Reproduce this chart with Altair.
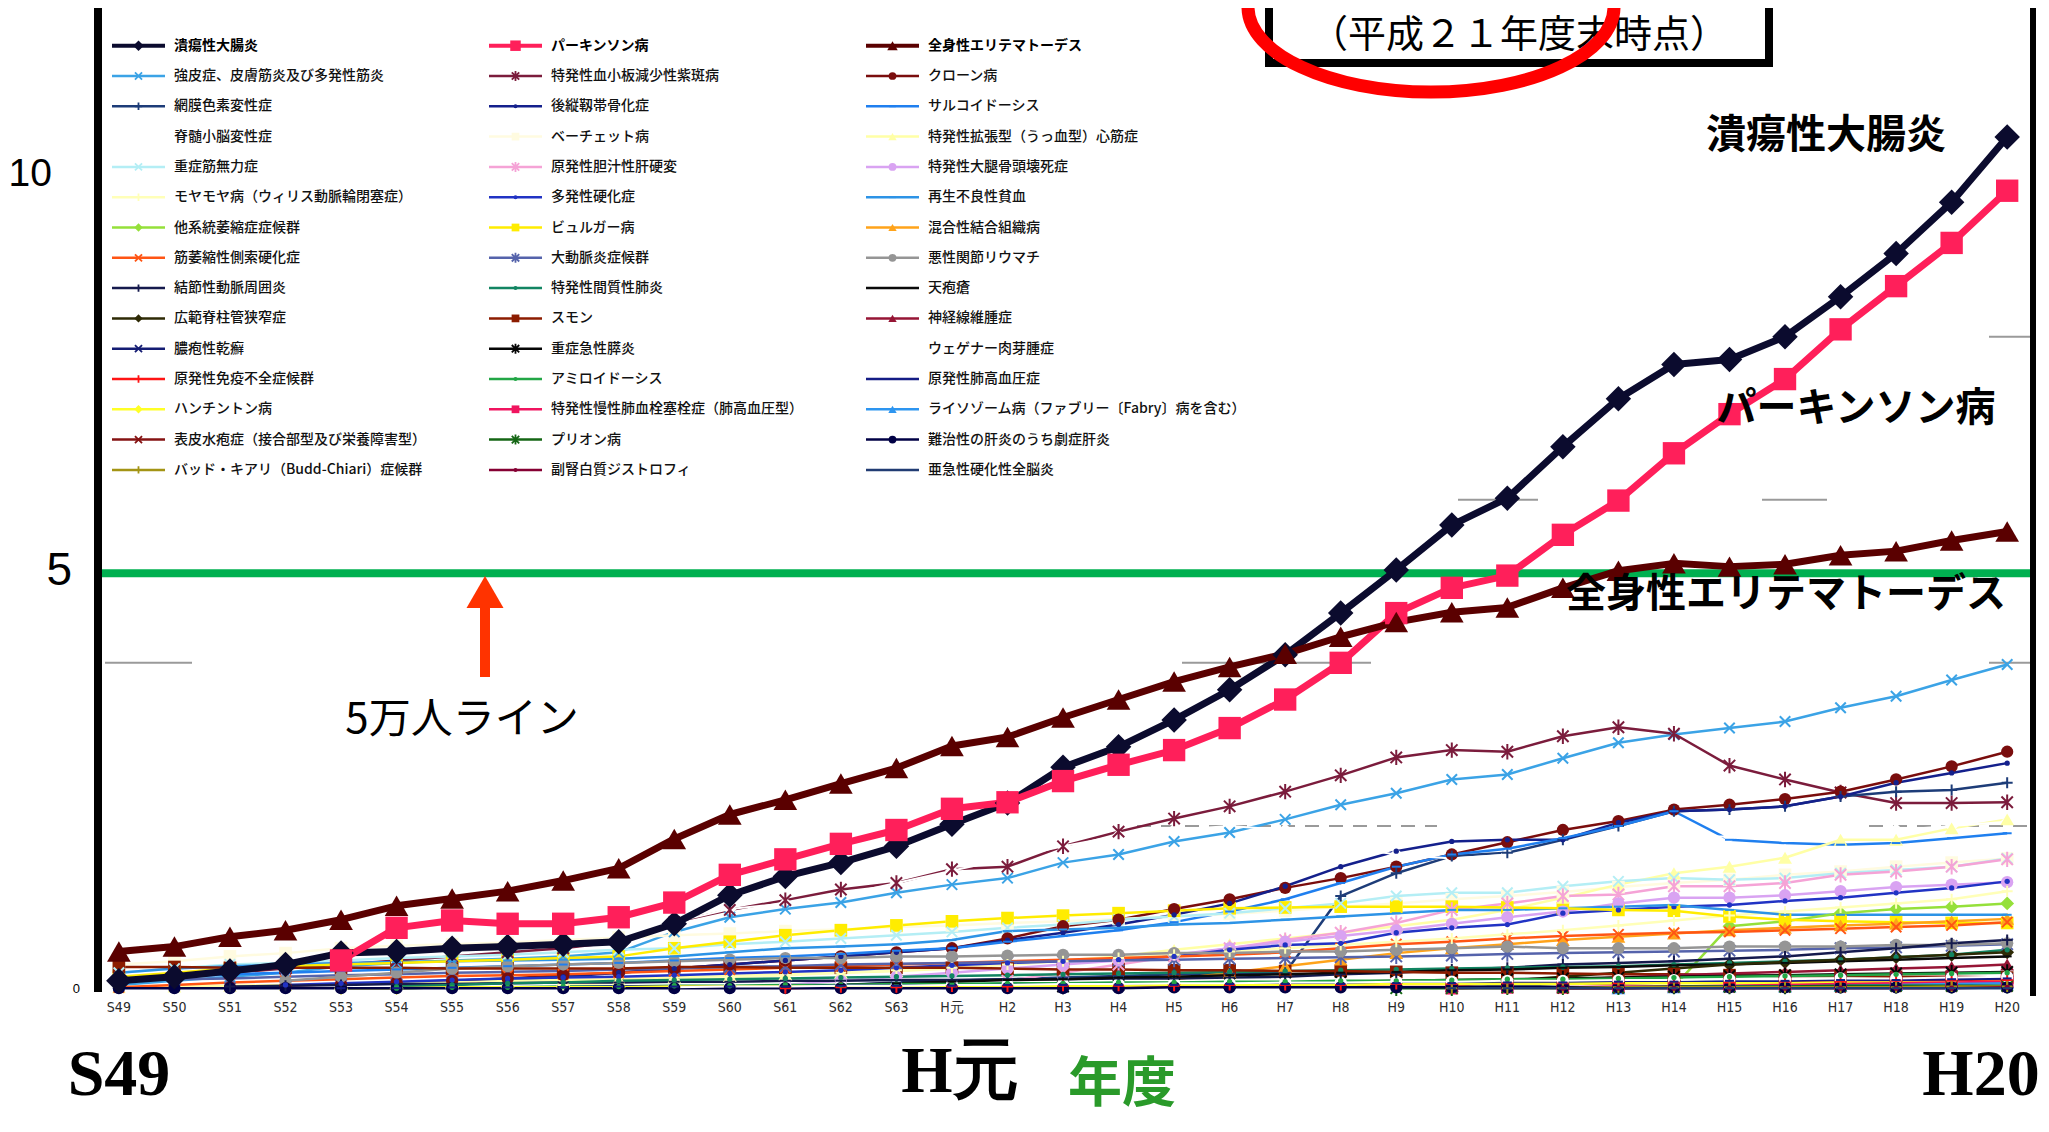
import altair as alt
import pandas as pd

# ---------------- data ----------------
YEARS = ["S49", "S50", "S51", "S52", "S53", "S54", "S55", "S56", "S57", "S58",
         "S59", "S60", "S61", "S62", "S63", "H元", "H2", "H3", "H4", "H5",
         "H6", "H7", "H8", "H9", "H10", "H11", "H12", "H13", "H14", "H15",
         "H16", "H17", "H18", "H19", "H20"]
N = None

NAMES = [
    "潰瘍性大腸炎", "パーキンソン病", "全身性エリテマトーデス",
    "強皮症、皮膚筋炎及び多発性筋炎", "特発性血小板減少性紫斑病", "クローン病",
    "網膜色素変性症", "後縦靱帯骨化症", "サルコイドーシス",
    "脊髄小脳変性症", "ベーチェット病", "特発性拡張型（うっ血型）心筋症",
    "重症筋無力症", "原発性胆汁性肝硬変", "特発性大腿骨頭壊死症",
    "モヤモヤ病（ウィリス動脈輪閉塞症）", "多発性硬化症", "再生不良性貧血",
    "他系統萎縮症症候群", "ビュルガー病", "混合性結合組織病",
    "筋萎縮性側索硬化症", "大動脈炎症候群", "悪性関節リウマチ",
    "結節性動脈周囲炎", "特発性間質性肺炎", "天疱瘡",
    "広範脊柱管狭窄症", "スモン", "神経線維腫症",
    "膿疱性乾癬", "重症急性膵炎", "ウェゲナー肉芽腫症",
    "原発性免疫不全症候群", "アミロイドーシス", "原発性肺高血圧症",
    "ハンチントン病", "特発性慢性肺血栓塞栓症（肺高血圧型）", "ライソゾーム病（ファブリー〔Fabry〕病を含む）",
    "表皮水疱症（接合部型及び栄養障害型）", "プリオン病", "難治性の肝炎のうち劇症肝炎",
    "バッド・キアリ（Budd-Chiari）症候群", "副腎白質ジストロフィ", "亜急性硬化性全脳炎",
]

COLORS = [
    "#0b0b2e", "#ff1f5a", "#5a0000",
    "#3ba3e6", "#7b1c3c", "#7a0d0d",
    "#1d3c78", "#14208c", "#1f7fef",
    "#ffffff", "#fffbe0", "#ffffa6",
    "#b4eef5", "#f5a3d6", "#d9a3f2",
    "#ffffb8", "#2133c4", "#2d93e6",
    "#95e03a", "#ffec00", "#ffa31a",
    "#ff5514", "#5563ab", "#959595",
    "#151a4d", "#128562", "#0a0a0a",
    "#2e2a05", "#8c1c00", "#961535",
    "#141c73", "#050505", "#ffffff",
    "#ff1414", "#22a646", "#141c85",
    "#ffff26", "#f0145f", "#2d95f0",
    "#851212", "#146614", "#000045",
    "#a39414", "#850033", "#213c73",
]

# values in 万人, one per fiscal year S49 .. H20
UC = [0.10, 0.15, 0.22, 0.30, 0.44, 0.46, 0.50, 0.52, 0.55, 0.58, 0.80, 1.15, 1.38, 1.55, 1.75,
      2.02, 2.28, 2.72, 2.97, 3.30, 3.67, 4.10, 4.61, 5.14, 5.69, 6.02, 6.65, 7.24, 7.66, 7.72,
      8.00, 8.49, 9.02, 9.65, 10.45]
PARKINSON = [N, N, N, N, 0.35, 0.75, 0.84, 0.80, 0.80, 0.88, 1.06, 1.40, 1.59, 1.78, 1.95,
             2.21, 2.29, 2.55, 2.75, 2.93, 3.20, 3.55, 4.00, 4.61, 4.92, 5.07, 5.57, 5.99, 6.57, 7.05,
             7.48, 8.09, 8.62, 9.15, 9.79]
SLE = [0.46, 0.52, 0.64, 0.72, 0.85, 1.02, 1.11, 1.20, 1.33, 1.48, 1.84, 2.14, 2.32, 2.52, 2.71,
       2.98, 3.09, 3.33, 3.55, 3.77, 3.95, 4.11, 4.32, 4.50, 4.62, 4.68, 4.92, 5.13, 5.22, 5.18,
       5.21, 5.32, 5.37, 5.50, 5.61]
SCLERODERMA = [0.05, 0.10, 0.15, 0.20, 0.28, 0.32, 0.35, 0.37, 0.40, 0.45, 0.70, 0.88, 0.98, 1.06, 1.18,
               1.28, 1.36, 1.55, 1.65, 1.81, 1.92, 2.08, 2.26, 2.40, 2.57, 2.63, 2.83, 3.02, 3.12, 3.20,
               3.28, 3.45, 3.59, 3.79, 3.98]
ITP = [0.10, 0.15, 0.20, 0.25, 0.30, 0.35, 0.40, 0.45, 0.50, 0.58, 0.82, 0.97, 1.09, 1.22, 1.30,
       1.47, 1.50, 1.75, 1.93, 2.09, 2.24, 2.42, 2.62, 2.84, 2.93, 2.91, 3.10, 3.21, 3.13, 2.74,
       2.57, 2.41, 2.28, 2.28, 2.29]
CROHN = [N, N, 0.02, 0.04, 0.06, 0.08, 0.10, 0.13, 0.17, 0.20, 0.25, 0.30, 0.35, 0.40, 0.45,
         0.50, 0.62, 0.77, 0.85, 0.98, 1.10, 1.24, 1.36, 1.50, 1.65, 1.80, 1.95, 2.06, 2.20, 2.26,
         2.33, 2.42, 2.57, 2.73, 2.91]
RP = [N] * 12 + [0.02, 0.05, 0.08, 0.10, 0.12, 0.14, 0.16, 0.18, 0.19, 0.20, 1.14, 1.42, 1.63,
                 1.67, 1.83, 2.00, 2.18, 2.20, 2.24, 2.36, 2.42, 2.44, 2.53]
OPLL = [N] * 6 + [0.05, 0.10, 0.15, 0.20, 0.25, 0.30, 0.35, 0.40, 0.45, 0.50, 0.60, 0.69, 0.79,
                  0.91, 1.05, 1.26, 1.50, 1.69, 1.81, 1.83, 1.83, 2.04, 2.18, 2.20, 2.24, 2.36,
                  2.53, 2.65, 2.77]
SARCOID = [0.10, 0.14, 0.18, 0.20, 0.22, 0.24, 0.26, 0.28, 0.30, 0.32, 0.35, 0.38, 0.40, 0.43, 0.47,
           0.50, 0.58, 0.65, 0.72, 0.82, 0.95, 1.10, 1.30, 1.50, 1.65, 1.72, 1.85, 2.00, 2.18, 1.83,
           1.79, 1.77, 1.79, 1.85, 1.91]
SCD = [0.10, 0.15, 0.20, 0.30, 0.45, 0.47, 0.51, 0.52, 0.55, 0.58, 0.82, 0.98, 1.05, 1.15, 1.30,
       1.45, 1.60, 1.75, 1.88, 1.95, 2.00, 1.95, 1.75, 1.65, 1.60, 1.65, 1.70, 1.80, 1.87, 1.87,
       1.85, 1.90, 1.95, 2.00, 2.05]
BEHCET = [0.30, 0.34, 0.40, 0.44, 0.50, 0.53, 0.55, 0.57, 0.60, 0.63, 0.66, 0.68, 0.71, 0.73, 0.76,
          0.78, 0.81, 0.83, 0.86, 0.89, 0.92, 0.96, 1.01, 1.05, 1.10, 1.14, 1.19, 1.25, 1.30, 1.34,
          1.40, 1.44, 1.50, 1.55, 1.60]
DCM = [0.02, 0.03, 0.04, 0.05, 0.06, 0.07, 0.08, 0.10, 0.11, 0.12, 0.14, 0.16, 0.18, 0.20, 0.22,
       0.25, 0.30, 0.35, 0.40, 0.48, 0.55, 0.62, 0.69, 0.77, 0.85, 0.97, 1.12, 1.28, 1.42, 1.50,
       1.61, 1.83, 1.83, 1.97, 2.08]
MG = [0.20, 0.25, 0.30, 0.32, 0.35, 0.38, 0.40, 0.42, 0.45, 0.48, 0.50, 0.55, 0.58, 0.62, 0.66,
      0.70, 0.75, 0.79, 0.85, 0.89, 0.93, 0.99, 1.05, 1.14, 1.18, 1.18, 1.26, 1.32, 1.36, 1.34,
      1.36, 1.42, 1.46, 1.50, 1.60]
PBC = [N] * 16 + [0.10, 0.20, 0.30, 0.40, 0.50, 0.60, 0.69, 0.81, 0.97, 1.05, 1.14, 1.16, 1.26,
                  1.26, 1.30, 1.40, 1.44, 1.50, 1.59]
ANFH = [N] * 12 + [0.05, 0.10, 0.15, 0.20, 0.25, 0.30, 0.35, 0.42, 0.50, 0.58, 0.65, 0.72, 0.80,
                   0.88, 0.95, 1.05, 1.12, 1.12, 1.15, 1.20, 1.25, 1.28, 1.31]
MOYAMOYA = [N] * 8 + [0.05, 0.08, 0.11, 0.14, 0.17, 0.20, 0.23, 0.26, 0.30, 0.34, 0.38, 0.42, 0.46,
                      0.50, 0.54, 0.58, 0.62, 0.67, 0.72, 0.78, 0.84, 0.90, 0.95, 1.00, 1.05, 1.10, 1.20]
MS = [N] * 3 + [0.05, 0.07, 0.09, 0.11, 0.13, 0.14, 0.15, 0.17, 0.19, 0.21, 0.23, 0.26, 0.29, 0.32,
                0.34, 0.36, 0.40, 0.48, 0.54, 0.56, 0.69, 0.75, 0.79, 0.93, 0.97, 1.01, 1.03, 1.08,
                1.12, 1.18, 1.24, 1.32]
AA = [0.20, 0.25, 0.28, 0.30, 0.32, 0.33, 0.34, 0.35, 0.36, 0.37, 0.40, 0.45, 0.50, 0.52, 0.55,
      0.60, 0.71, 0.73, 0.75, 0.79, 0.81, 0.85, 0.89, 0.93, 0.97, 0.97, 0.99, 1.01, 1.03, 0.97,
      0.91, 0.91, 0.91, 0.91, 0.91]
MSA = [N] * 28 + [0.03, 0.77, 0.83, 0.93, 0.98, 1.01, 1.05]
BUERGER = [0.15, 0.20, 0.25, 0.28, 0.30, 0.32, 0.34, 0.36, 0.38, 0.40, 0.50, 0.58, 0.66, 0.72, 0.78,
           0.83, 0.87, 0.90, 0.93, 0.96, 0.99, 1.00, 1.01, 1.01, 1.01, 1.00, 0.99, 0.97, 0.96, 0.89,
           0.85, 0.83, 0.82, 0.81, 0.81]
MCTD = [N] * 19 + [0.12, 0.20, 0.28, 0.36, 0.44, 0.50, 0.55, 0.60, 0.64, 0.68, 0.72, 0.75, 0.78,
                   0.80, 0.83, 0.86]
ALS = [0.02, 0.05, 0.08, 0.10, 0.12, 0.14, 0.16, 0.17, 0.18, 0.20, 0.22, 0.24, 0.26, 0.28, 0.30,
       0.32, 0.34, 0.36, 0.38, 0.40, 0.42, 0.45, 0.50, 0.55, 0.58, 0.62, 0.65, 0.67, 0.69, 0.70,
       0.72, 0.74, 0.76, 0.78, 0.82]
TAKAYASU = [0.10, 0.12, 0.13, 0.15, 0.17, 0.18, 0.20, 0.21, 0.22, 0.24, 0.25, 0.27, 0.28, 0.30, 0.31,
            0.32, 0.33, 0.34, 0.35, 0.36, 0.37, 0.38, 0.39, 0.40, 0.41, 0.43, 0.44, 0.45, 0.46, 0.47,
            0.48, 0.50, 0.51, 0.53, 0.55]
MRA = [N] * 3 + [0.10, 0.15, 0.20, 0.25, 0.28, 0.30, 0.32, 0.34, 0.36, 0.38, 0.38, 0.40, 0.40, 0.41,
                 0.42, 0.42, 0.44, 0.44, 0.46, 0.46, 0.48, 0.50, 0.52, 0.50, 0.50, 0.50, 0.52, 0.52,
                 0.52, 0.54, 0.54, 0.56]
PN = [N] * 2 + [0.03, 0.04, 0.05, 0.06, 0.06, 0.07, 0.08, 0.08, 0.09, 0.09, 0.10, 0.10, 0.11, 0.11,
                0.12, 0.12, 0.13, 0.13, 0.14, 0.15, 0.18, 0.20, 0.24, 0.26, 0.30, 0.32, 0.34, 0.37,
                0.40, 0.45, 0.50, 0.56, 0.60]
IIP = [N] * 5 + [0.03, 0.05, 0.07, 0.08, 0.10, 0.11, 0.12, 0.13, 0.14, 0.15, 0.16, 0.17, 0.18, 0.19,
                 0.20, 0.21, 0.22, 0.23, 0.24, 0.25, 0.26, 0.27, 0.28, 0.30, 0.32, 0.34, 0.36, 0.39,
                 0.42, 0.48]
PEMPHIGUS = [N] * 12 + [0.03, 0.05, 0.07, 0.09, 0.11, 0.12, 0.14, 0.15, 0.17, 0.18, 0.20, 0.21,
                        0.23, 0.24, 0.26, 0.27, 0.29, 0.30, 0.32, 0.34, 0.36, 0.38, 0.40]
LSCS = [N] * 24 + [0.05, 0.10, 0.15, 0.20, 0.25, 0.30, 0.33, 0.36, 0.39, 0.42, 0.45]
SMON = [0.27, 0.27, 0.26, 0.26, 0.26, 0.26, 0.25, 0.25, 0.25, 0.25, 0.27, 0.27, 0.26, 0.26, 0.26,
        0.26, 0.25, 0.24, 0.24, 0.23, 0.23, 0.22, 0.22, 0.21, 0.20, 0.20, 0.19, 0.18, 0.18, 0.17,
        0.16, 0.16, 0.15, 0.15, 0.14]
NF = [N] * 24 + [0.04, 0.08, 0.11, 0.14, 0.17, 0.19, 0.21, 0.23, 0.25, 0.27, 0.30]
PUSTULAR = [N] * 24 + [0.02, 0.04, 0.06, 0.07, 0.08, 0.09, 0.10, 0.11, 0.12, 0.12, 0.13]
SAP = [N] * 17 + [0.03, 0.05, 0.06, 0.07, 0.08, 0.09, 0.10, 0.11, 0.12, 0.13, 0.14, 0.15, 0.16,
                  0.17, 0.18, 0.19, 0.20, 0.21]
WEGENER = [N] * 10 + [0.02, 0.03, 0.03, 0.04, 0.04, 0.05, 0.05, 0.06, 0.06, 0.07, 0.07, 0.08, 0.08,
                      0.09, 0.09, 0.10, 0.10, 0.11, 0.11, 0.12, 0.12, 0.13, 0.13, 0.14, 0.15]
PID = [N] * 12 + [0.01, 0.02, 0.02, 0.03, 0.03, 0.04, 0.04, 0.04, 0.05, 0.05, 0.05, 0.06, 0.06,
                  0.07, 0.07, 0.07, 0.08, 0.08, 0.09, 0.09, 0.10, 0.10, 0.11]
AMYLOID = [N] * 5 + [0.01, 0.02, 0.02, 0.03, 0.03, 0.04, 0.04, 0.05, 0.05, 0.06, 0.06, 0.07, 0.07,
                     0.08, 0.08, 0.09, 0.09, 0.10, 0.10, 0.11, 0.12, 0.12, 0.13, 0.14, 0.15, 0.16,
                     0.17, 0.18, 0.19, 0.20]
PPH = [N] * 4 + [0.01, 0.01, 0.02, 0.02, 0.02, 0.03, 0.03, 0.03, 0.03, 0.04, 0.04, 0.04, 0.05, 0.05,
                 0.05, 0.05, 0.06, 0.06, 0.06, 0.07, 0.07, 0.08, 0.08, 0.09, 0.09, 0.10, 0.10, 0.11,
                 0.11, 0.12, 0.13]
HUNTINGTON = [N] * 4 + [0.01, 0.01, 0.02, 0.02, 0.02, 0.02, 0.03, 0.03, 0.03, 0.03, 0.03, 0.04,
                        0.04, 0.04, 0.04, 0.05, 0.05, 0.05, 0.05, 0.06, 0.06, 0.06, 0.06, 0.07,
                        0.07, 0.07, 0.07, 0.08, 0.08, 0.08, 0.09]
CTEPH = [N] * 24 + [0.01, 0.02, 0.02, 0.03, 0.03, 0.04, 0.05, 0.06, 0.07, 0.08, 0.09]
LYSOSOMAL = [N] * 27 + [0.01, 0.02, 0.03, 0.03, 0.04, 0.05, 0.06, 0.07]
EB = [N] * 26 + [0.01, 0.01, 0.02, 0.02, 0.02, 0.02, 0.03, 0.03, 0.03]
PRION = [N] * 23 + [0.01, 0.01, 0.02, 0.02, 0.02, 0.03, 0.03, 0.03, 0.04, 0.04, 0.04, 0.04]
FULMINANT = [0.01, 0.01, 0.01, 0.01, 0.01, 0.01, 0.01, 0.01, 0.01, 0.01, 0.01, 0.01, 0.01, 0.01,
             0.01, 0.01, 0.01, 0.01, 0.01, 0.02, 0.02, 0.02, 0.02, 0.02, 0.02, 0.02, 0.02, 0.02,
             0.02, 0.02, 0.02, 0.02, 0.02, 0.02, 0.02]
BUDDCHIARI = [N] * 24 + [0.01, 0.01, 0.01, 0.02, 0.02, 0.02, 0.02, 0.02, 0.02, 0.03, 0.03]
ALD = [N] * 26 + [0.01, 0.01, 0.01, 0.01, 0.01, 0.01, 0.01, 0.01, 0.02]
SSPE = [N] * 24 + [0.01, 0.01, 0.01, 0.01, 0.01, 0.01, 0.01, 0.01, 0.01, 0.01, 0.01]

SERIES = [UC, PARKINSON, SLE, SCLERODERMA, ITP, CROHN, RP, OPLL, SARCOID,
          SCD, BEHCET, DCM, MG, PBC, ANFH, MOYAMOYA, MS, AA,
          MSA, BUERGER, MCTD, ALS, TAKAYASU, MRA, PN, IIP, PEMPHIGUS,
          LSCS, SMON, NF, PUSTULAR, SAP, WEGENER, PID, AMYLOID, PPH,
          HUNTINGTON, CTEPH, LYSOSOMAL, EB, PRION, FULMINANT, BUDDCHIARI, ALD, SSPE]
assert len(SERIES) == len(NAMES) == len(COLORS) == 45
assert all(len(s) == len(YEARS) for s in SERIES), [len(s) for s in SERIES]

rows = []
for k, (name, vals) in enumerate(zip(NAMES, SERIES)):
    for i, v in enumerate(vals):
        if v is not None:
            rows.append({"series": name, "k": k, "i": i, "v": v})
df = pd.DataFrame(rows)
ldf = pd.DataFrame({"series": NAMES, "k": list(range(len(NAMES)))})
ydf = pd.DataFrame({"i": list(range(len(YEARS))), "lab": YEARS})
one = pd.DataFrame({"a": [0]})

# ---------------- styles ----------------
FONT_JP = "Noto Sans CJK JP"
X_PATH = "M-1,-1L1,1M-1,1L1,-1"
AST_PATH = "M-1,-1L1,1M-1,1L1,-1M0,-1.35L0,1.35"
PLUS_PATH = "M-1,0L1,0M0,-1L0,1"
DASH_PATH = "M-1,0L1,0"
CYCLE = ["diamond", "square", "triangle", "x", "asterisk", "circle", "plus", "dot", "dash"]
MARK = {  # shape, filled, size in plot, size in legend
    "diamond": ("diamond", True, 190, 70),
    "square": ("square", True, 160, 60),
    "triangle": ("triangle-up", True, 190, 70),
    "x": (X_PATH, False, 110, 50),
    "asterisk": (AST_PATH, False, 130, 55),
    "circle": ("circle", True, 150, 60),
    "plus": (PLUS_PATH, False, 120, 55),
    "dot": ("circle", True, 28, 16),
    "dash": (DASH_PATH, False, 80, 45),
}
MAJOR_SIZE = [650, 500, 560]
MAJORS = NAMES[:3]
WHITES = [n for n, c in zip(NAMES, COLORS) if c == "#ffffff"]
MINORS = [n for n in NAMES[3:] if n not in WHITES]

XS = alt.Scale(domain=[-0.448, 34.447], nice=False, zero=False)
YS = alt.Scale(domain=[0, 12.031], nice=False, zero=False)
CS = alt.Scale(domain=NAMES, range=COLORS)
COL = alt.Color("series:N", scale=CS, legend=None)

base = alt.Chart(df)


def enc():
    return dict(x=alt.X("i:Q", scale=XS, axis=None), y=alt.Y("v:Q", scale=YS, axis=None), color=COL)


def only(names):
    return alt.FieldOneOfPredicate(field="series", oneOf=list(names))


layers = []

# partial grid fragments of the scanned original
for yv, x1, x2, dash in [(4, 11, 98, []), (4, 1088, 1277, []), (4, 1895, 1939, []),
                         (6, 1364, 1444, []), (6, 1668, 1733, []), (8, 1895, 1939, []),
                         (2, 1043, 1343, [14, 10]), (2, 1775, 1939, [14, 10])]:
    layers.append(alt.Chart(one).mark_rule(color="#9a9a9a", strokeWidth=2, strokeDash=dash).encode(
        y=alt.Y(datum=yv, scale=YS, axis=None), x=alt.value(x1), x2=alt.value(x2)))

# minor lines
layers.append(base.mark_line(strokeWidth=2.5, strokeJoin="round").encode(
    order=alt.Order("i:Q"), **enc()).transform_filter(only(MINORS)))
layers.append(base.mark_line(strokeWidth=2, strokeJoin="round").encode(
    order=alt.Order("i:Q"), **enc()).transform_filter(only(WHITES)))

# minor markers by marker class
for cls in CYCLE:
    names = [n for k, n in enumerate(NAMES) if k >= 3 and CYCLE[k % 9] == cls]
    shape, filled, size, _ = MARK[cls]
    if filled:
        m = base.mark_point(shape=shape, filled=True, size=size, opacity=1)
    else:
        m = base.mark_point(shape=shape, filled=False, size=size, opacity=1, strokeWidth=2)
    layers.append(m.encode(**enc()).transform_filter(only(names)))

# 5万人 line
layers.append(alt.Chart(one).mark_rule(color="#00b050", strokeWidth=8).encode(
    y=alt.Y(datum=5.1, scale=YS, axis=None)))

# major series
layers.append(base.mark_line(strokeWidth=7, strokeJoin="round").encode(
    order=alt.Order("i:Q"), **enc()).transform_filter(only(MAJORS)))
for k, name in enumerate(MAJORS):
    shape = MARK[CYCLE[k]][0]
    layers.append(base.mark_point(shape=shape, filled=True, size=MAJOR_SIZE[k], opacity=1).encode(
        **enc()).transform_filter(only([name])))

# fiscal-year tick labels along the bottom
layers.append(alt.Chart(ydf).mark_text(fontSize=14, font="DejaVu Sans Condensed", color="#2a2a2a",
                                       baseline="middle").encode(
    x=alt.X("i:Q", scale=XS, axis=None), y=alt.value(1000), text="lab:N"))

# axes lines (thick black)
layers.append(alt.Chart(one).mark_rule(color="black", strokeWidth=8).encode(
    x=alt.value(4), y=alt.value(-10), y2=alt.value(984)))
layers.append(alt.Chart(one).mark_rule(color="black", strokeWidth=6).encode(
    x=alt.value(1939), y=alt.value(-10), y2=alt.value(988)))

# ---------------- legend (3 columns) ----------------
lbase = alt.Chart(ldf).transform_calculate(
    col="datum.k % 3", row="floor(datum.k / 3)"
).transform_calculate(
    lx="18 + 377 * datum.col", ly="37.7 + 30.3 * datum.row"
).transform_calculate(
    lx2="datum.lx + 53", lm="datum.lx + 26.5", tx="datum.lx + 62"
)
LX = alt.X("lx:Q", scale=None, axis=None)
LY = alt.Y("ly:Q", scale=None, axis=None)
layers.append(lbase.mark_rule(strokeWidth=2.5).encode(
    x=LX, x2="lx2:Q", y=LY, color=COL).transform_filter(only(NAMES[3:])))
layers.append(lbase.mark_rule(strokeWidth=4).encode(
    x=LX, x2="lx2:Q", y=LY, color=COL).transform_filter(only(MAJORS)))
for cls in CYCLE:
    names = [n for k, n in enumerate(NAMES) if k >= 3 and CYCLE[k % 9] == cls]
    shape, filled, _, lsize = MARK[cls]
    if filled:
        m = lbase.mark_point(shape=shape, filled=True, size=lsize, opacity=1)
    else:
        m = lbase.mark_point(shape=shape, filled=False, size=lsize, opacity=1, strokeWidth=1.8)
    layers.append(m.encode(x=alt.X("lm:Q", scale=None, axis=None), y=LY, color=COL)
                  .transform_filter(only(names)))
for k, name in enumerate(MAJORS):
    layers.append(lbase.mark_point(shape=MARK[CYCLE[k]][0], filled=True, size=110, opacity=1).encode(
        x=alt.X("lm:Q", scale=None, axis=None), y=LY, color=COL).transform_filter(only([name])))
layers.append(lbase.mark_text(align="left", baseline="middle", fontSize=14, font=FONT_JP,
                              fontWeight=500, color="#111111").encode(
    x=alt.X("tx:Q", scale=None, axis=None), y=LY, text="series:N").transform_filter(only(NAMES[3:])))
layers.append(lbase.mark_text(align="left", baseline="middle", fontSize=14, font=FONT_JP,
                              fontWeight="bold", color="#000000").encode(
    x=alt.X("tx:Q", scale=None, axis=None), y=LY, text="series:N").transform_filter(only(MAJORS)))


# ---------------- annotations ----------------
def txt(s, x, y, size, font=FONT_JP, weight="normal", color="black", align="center"):
    return alt.Chart(one).mark_text(fontSize=size, font=font, fontWeight=weight, color=color,
                                    align=align, baseline="middle").encode(
        x=alt.value(x), y=alt.value(y), text=alt.value(s))


layers += [
    txt("10", -42, 166, 39, font="Liberation Sans", align="right"),
    txt("5", -22, 563, 46, font="Liberation Sans", align="right"),
    txt("0", -14, 981, 13, font="Liberation Sans", align="right"),
    txt("潰瘍性大腸炎", 1732, 128, 40, weight="bold"),
    txt("パーキンソン病", 1762, 401, 40, weight="bold"),
    txt("全身性エリテマトーデス", 1692, 587, 40, weight="bold"),
    txt("5万人ライン", 368, 712, 42),
    txt("S49", 25, 1067, 66, font="Liberation Serif", weight="bold"),
    txt("H元", 866, 1064, 66, font="Liberation Serif", weight="bold"),
    txt("H20", 1887, 1067, 66, font="Liberation Serif", weight="bold"),
    txt("年度", 1028, 1078, 54, weight="bold", color="#2a9a2a"),
]

# red arrow
layers.append(alt.Chart(one).mark_rule(color="#ff3300", strokeWidth=10).encode(
    x=alt.value(391), y=alt.value(596), y2=alt.value(669)))
layers.append(alt.Chart(one).mark_point(shape="triangle-up", filled=True, size=1369, opacity=1,
                                        color="#ff3300").encode(x=alt.value(391), y=alt.value(584)))

# title box with red ellipse
layers.append(alt.Chart(one).mark_rect(fill="white", stroke="black", strokeWidth=8).encode(
    x=alt.value(1175), x2=alt.value(1675), y=alt.value(-40), y2=alt.value(55)))
layers.append(txt("（平成２１年度末時点）", 1425, 28, 38))
ELLIPSE = ("M-1,0C-1,-0.2568,-0.5523,-0.465,0,-0.465C0.5523,-0.465,1,-0.2568,1,0"
           "C1,0.2568,0.5523,0.465,0,0.465C-0.5523,0.465,-1,0.2568,-1,0Z")
layers.append(alt.Chart(one).mark_point(shape=ELLIPSE, filled=False, size=133956, opacity=1,
                                        stroke="#ff0000", strokeWidth=13).encode(
    x=alt.value(1337), y=alt.value(-1)))

chart = alt.layer(*layers).properties(
    width=1938, height=981,
    autosize=alt.AutoSizeParams(type="none"),
    padding={"left": 86, "top": 0, "right": 9, "bottom": 135},
    background="white",
).configure_view(stroke=None)

chart.save("out.html", embed_options={"renderer": "svg", "actions": False})
